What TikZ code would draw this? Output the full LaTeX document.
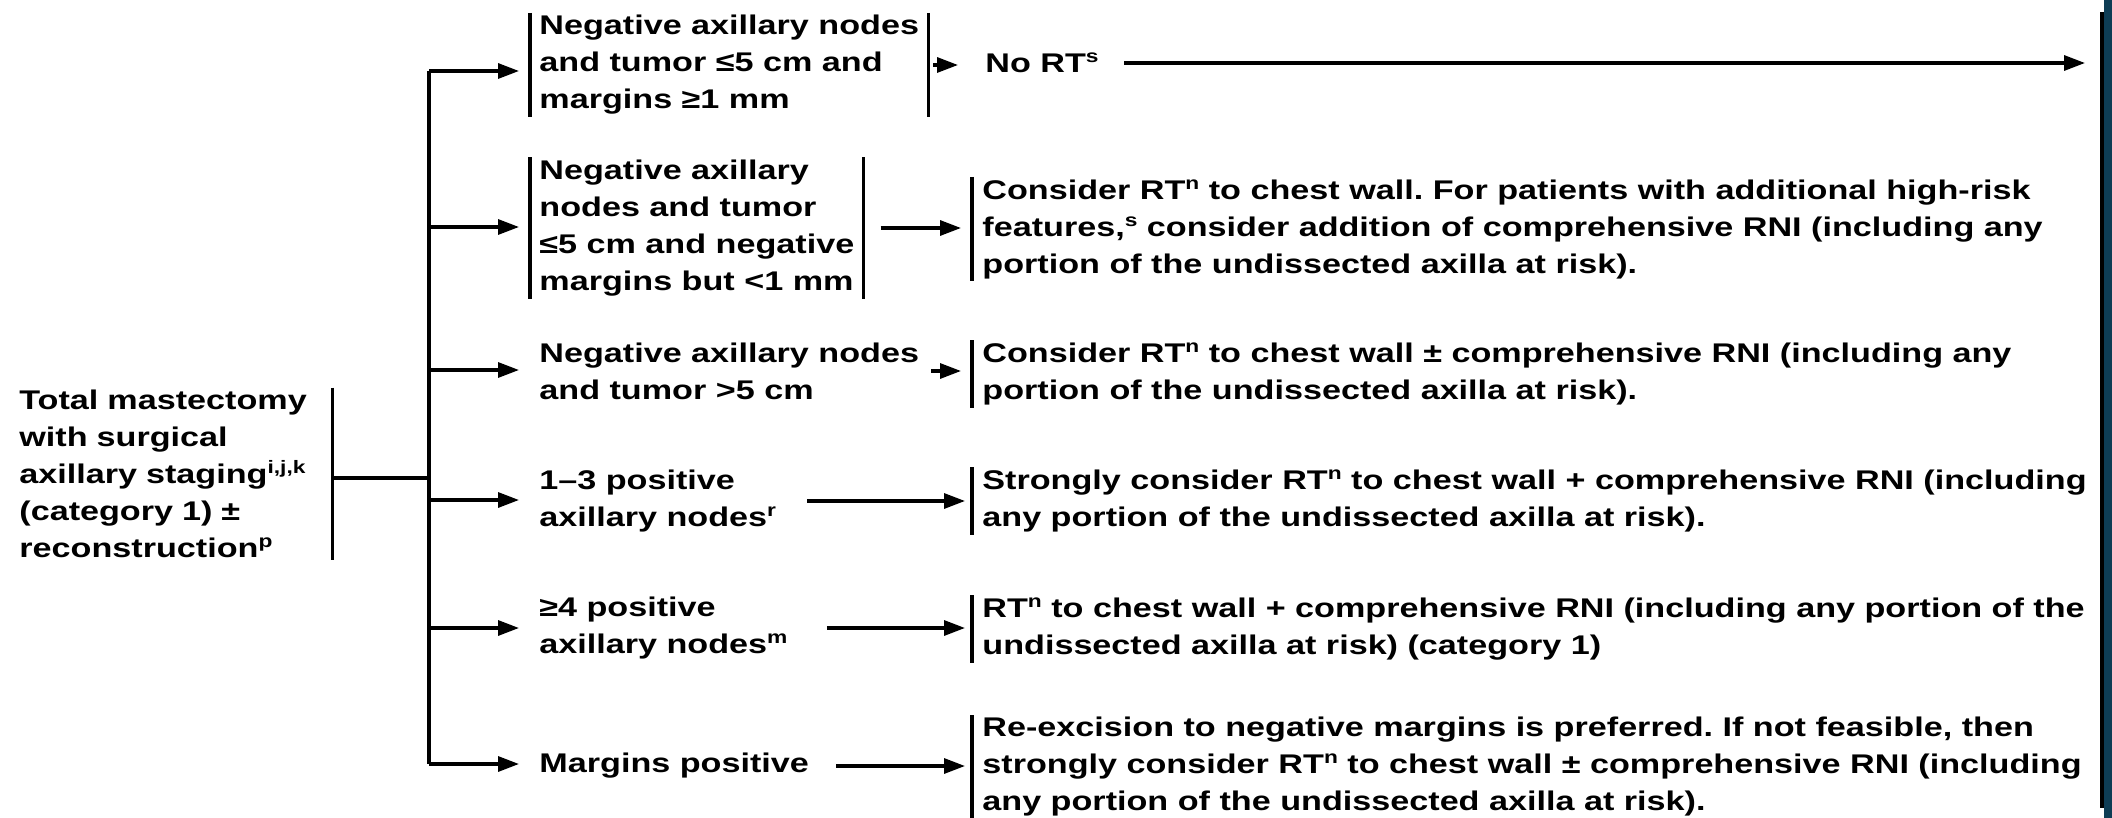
\documentclass[tikz,border=0pt]{standalone}
\usepackage{fontspec}
\setmainfont{Liberation Sans}[FakeStretch=1.265]
\usetikzlibrary{arrows.meta}
\definecolor{edgeteal}{HTML}{0E3D55}
\newcommand\sps[1]{\raisebox{5pt}{\fontsize{9}{9}\selectfont #1}}
\frenchspacing
\begin{document}
\begin{tikzpicture}[x=0.5pt,y=-0.5pt,
  txt/.style={font=\fontsize{13.5}{18.5}\selectfont\bfseries\frenchspacing, align=left, inner xsep=4.5pt, inner ysep=1pt, anchor=west},
  bar/.style={line width=1.6pt},
  trunkline/.style={line width=2.4pt},
  link/.style={line width=1.6pt},
  arr/.style={line width=1.6pt, -{Triangle[length=10.5pt,width=7.5pt]}},
]
\useasboundingbox (0,0) rectangle (2112,818);
\fill[white] (0,0) rectangle (2112,818);

% left node
\node[txt, text width=152pt] (L) at (10,474) {Total mastectomy\\with surgical\\axillary staging\sps{i,j,k}\\(category 1) ±\\reconstruction\sps{p}};

% second column
\node[txt] (c1) at (530,65) {Negative axillary nodes\\and tumor ≤5 cm and\\margins ≥1 mm};
\node[txt] (c2) at (530,228) {Negative axillary\\nodes and tumor\\≤5 cm and negative\\margins but <1 mm};
\node[txt] (c3) at (530,371) {Negative axillary nodes\\and tumor >5 cm};
\node[txt] (c4) at (530,501) {1–3 positive\\axillary nodes\sps{r}};
\node[txt] (c5) at (530,628) {≥4 positive\\axillary nodes\sps{m}};
\node[txt] (c6) at (530,766) {Margins positive};

% results
\node[txt] (r1) at (976,63) {No RT\sps{s}};
\node[txt, inner xsep=5pt] (r2) at (972,229) {Consider RT\sps{n} to chest wall. For patients with additional high-risk\\features,\sps{s} consider addition of comprehensive RNI (including any\\portion of the undissected axilla at risk).};
\node[txt, inner xsep=5pt] (r3) at (972,374) {Consider RT\sps{n} to chest wall ± comprehensive RNI (including any\\portion of the undissected axilla at risk).};
\node[txt, inner xsep=5pt] (r4) at (972,501) {Strongly consider RT\sps{n} to chest wall + comprehensive RNI (including\\any portion of the undissected axilla at risk).};
\node[txt, inner xsep=5pt] (r5) at (972,629) {RT\sps{n} to chest wall + comprehensive RNI (including any portion of the\\undissected axilla at risk) (category 1)};
\node[txt, inner xsep=5pt] (r6) at (972,767) {Re-excision to negative margins is preferred. If not feasible, then\\strongly consider RT\sps{n} to chest wall ± comprehensive RNI (including\\any portion of the undissected axilla at risk).};

% bars
\draw[bar] (L.north east) -- (L.south east);
\foreach \n in {c1,c2} {
  \draw[bar] (\n.north west) -- (\n.south west);
  \draw[bar] (\n.north east) -- (\n.south east);
}
\foreach \n in {r2,r3,r4,r5,r6} \draw[bar] (\n.north west) -- (\n.south west);

% trunk and branches
\coordinate (j) at (429,478);
\coordinate (b1) at (429,71);
\coordinate (b2) at (429,227);
\coordinate (b3) at (429,370);
\coordinate (b4) at (429,500);
\coordinate (b5) at (429,628);
\coordinate (b6) at (429,764);
\draw[link] (L.east |- j) -- (j);
\draw[trunkline] (b1) -- (b6);
\foreach \i in {1,...,6} \draw[arr, shorten >=5.5pt] (b\i) -- (b\i -| c\i.west);

% second to third column
\draw[arr, shorten <=2.5pt, shorten >=9pt] (c1.east) -- (c1.east -| r1.west);
\draw[arr, shorten <=8.5pt, shorten >=5.5pt] (c2.east) -- (c2.east -| r2.west);
\draw[arr, shorten <=1.5pt, shorten >=5.5pt] (c3.east) -- (c3.east -| r3.west);
\draw[arr, shorten <=11pt, shorten >=3.5pt] (c4.east) -- (c4.east -| r4.west);
\draw[arr, shorten <=15pt, shorten >=3.5pt] (c5.east) -- (c5.east -| r5.west);
\draw[arr, shorten <=9pt, shorten >=3.5pt] (c6.east) -- (c6.east -| r6.west);
\coordinate (e1) at (2085,62);
\draw[arr, shorten <=8pt] (r1.east) -- (r1.east -| e1);

% right edge
\fill[edgeteal] (2104,0) rectangle (2112,818);
\draw[line width=2pt] (2101.5,12) -- (2101.5,808);
\end{tikzpicture}
\end{document}
